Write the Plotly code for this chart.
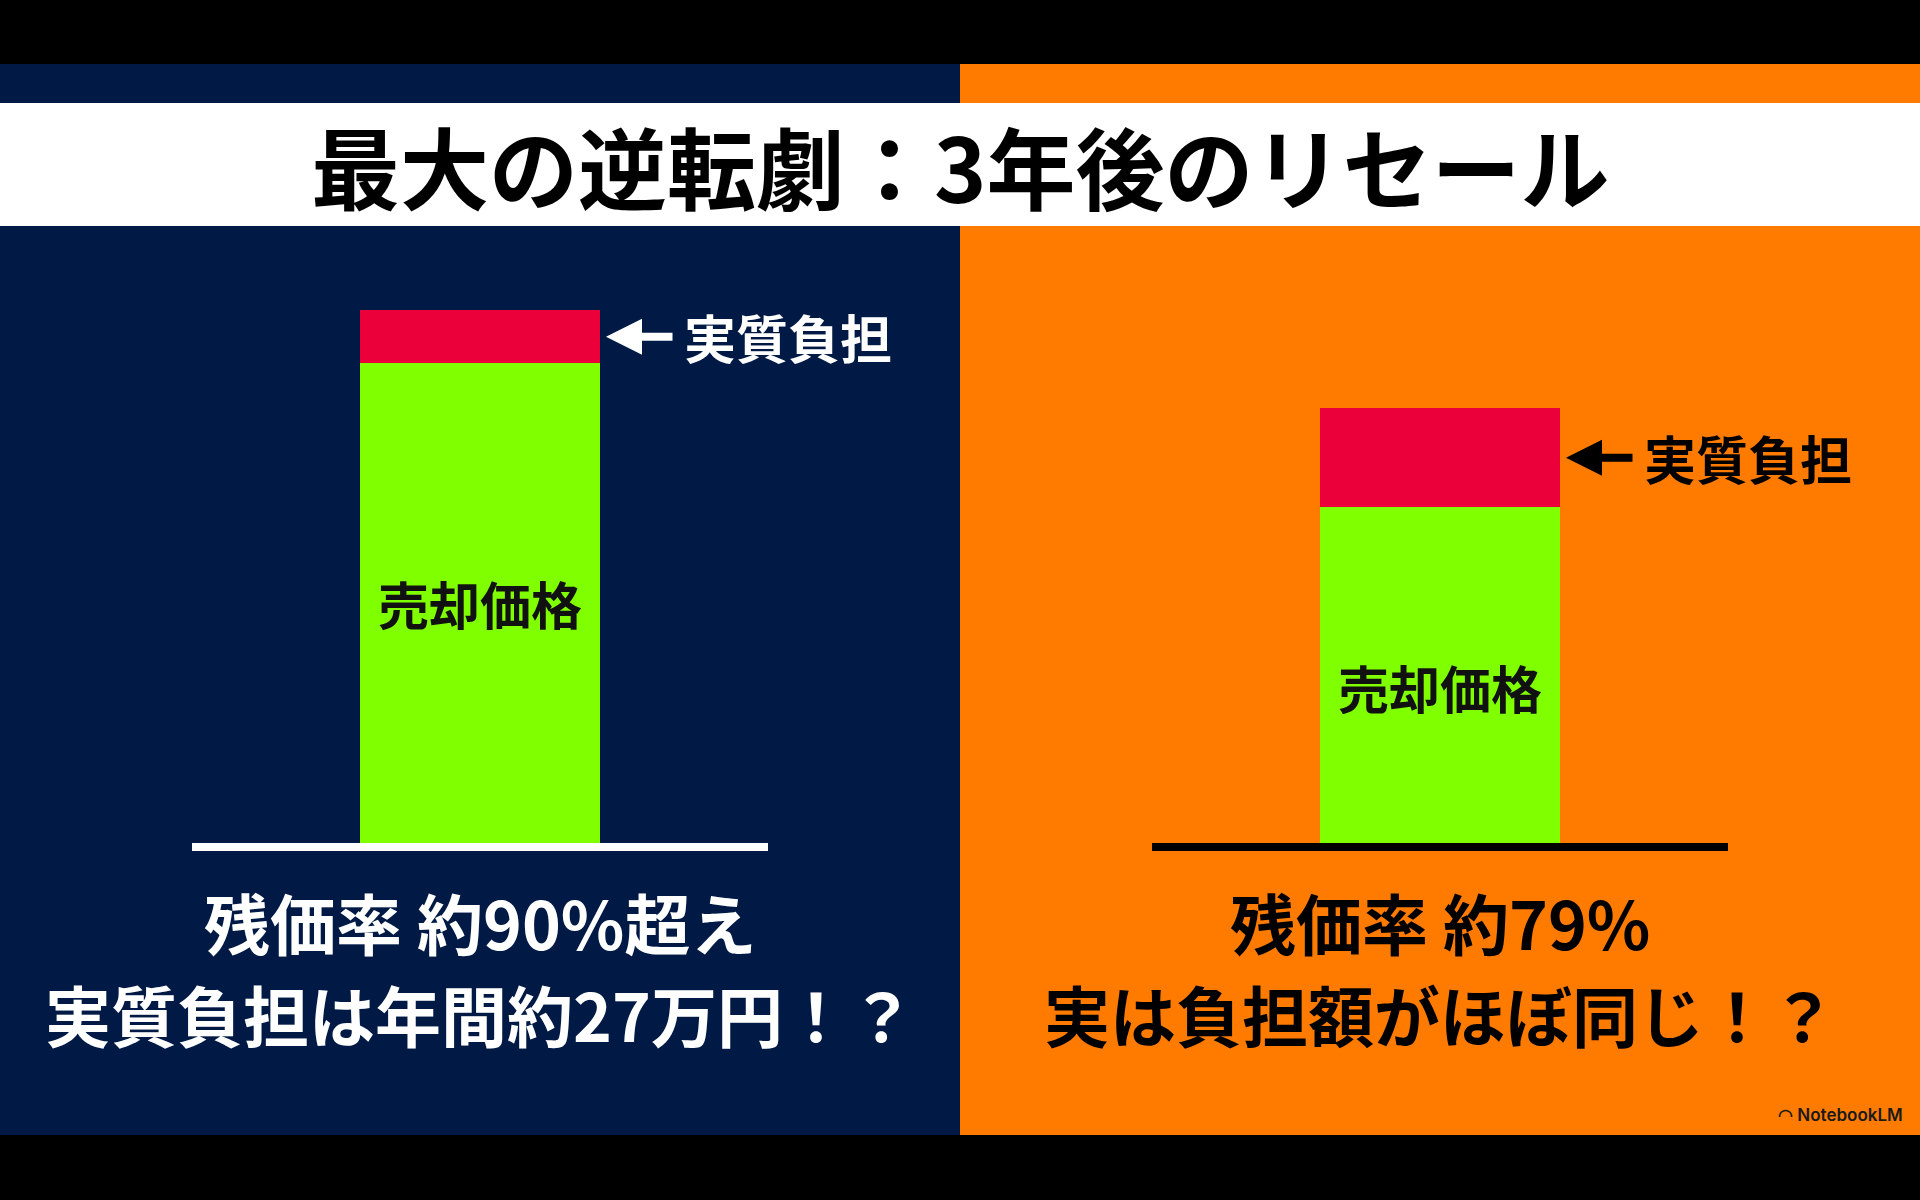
import plotly.graph_objects as go
from plotly.subplots import make_subplots

# ---- data ----
panels = ["左", "右"]
sale_price = [90, 63]          # 売却価格 (relative height)
burden = [10, 18.6]            # 実質負担 (relative height)
bar_label = "売却価格"
burden_label = "実質負担"
title_text = "最大の逆転劇：3年後のリセール"
line1 = ["残価率 約90%超え", "残価率 約79%"]
line2 = ["実質負担は年間約27万円！？", "実は負担額がほぼ同じ！？"]

NAVY = "#011a45"
ORANGE = "#ff7b00"
RED = "#ec0039"
GREEN = "#7fff00"
FONT = "Noto Sans CJK JP"
text_colors = ["#ffffff", "#000000"]
label_yshift = [0, -12]

W, H = 1920, 1200
def py(p):
    return 1 - p / H

fig = make_subplots(rows=1, cols=2, horizontal_spacing=0)

for i in range(2):
    fig.add_trace(go.Bar(x=[panels[i]], y=[sale_price[i]], width=1,
                         marker=dict(color=GREEN, line=dict(width=0)),
                         showlegend=False, hoverinfo="skip"), row=1, col=i + 1)
    fig.add_trace(go.Bar(x=[panels[i]], y=[burden[i]], width=1,
                         marker=dict(color=RED, line=dict(width=0)),
                         showlegend=False, hoverinfo="skip"), row=1, col=i + 1)

fig.update_layout(barmode="stack")

shapes = []
shapes.append(dict(type="rect", xref="paper", yref="paper", x0=0, x1=0.5, y0=0, y1=1,
                   fillcolor=NAVY, line=dict(width=0), layer="below"))
shapes.append(dict(type="rect", xref="paper", yref="paper", x0=0.5, x1=1, y0=0, y1=1,
                   fillcolor=ORANGE, line=dict(width=0), layer="below"))
shapes.append(dict(type="rect", xref="paper", yref="paper", x0=0, x1=1, y0=py(64), y1=1,
                   fillcolor="#000000", line=dict(width=0), layer="below"))
shapes.append(dict(type="rect", xref="paper", yref="paper", x0=0, x1=1, y0=0, y1=py(1135),
                   fillcolor="#000000", line=dict(width=0), layer="below"))
shapes.append(dict(type="rect", xref="paper", yref="paper", x0=0, x1=1, y0=py(226), y1=py(103),
                   fillcolor="#ffffff", line=dict(width=0), layer="below"))

axes = [("x", "y"), ("x2", "y2")]
annotations = []
for i, (xa, ya) in enumerate(axes):
    # baseline just under the bars
    shapes.append(dict(type="rect", xref=xa, yref=ya, x0=-1.2, x1=1.2,
                       ysizemode="pixel", yanchor=0, y0=-8, y1=0,
                       fillcolor=text_colors[i], line=dict(width=0), layer="above"))
    # label inside green bar
    annotations.append(dict(xref=xa, yref=ya, x=panels[i], y=sale_price[i] / 2,
                            text="<b>" + bar_label + "</b>", showarrow=False,
                            font=dict(family=FONT, size=51, color="#111111", weight=900),
                            xanchor="center", yanchor="middle", yshift=label_yshift[i]))
    ymid = sale_price[i] + burden[i] / 2
    # arrow pointing at the burden segment
    annotations.append(dict(xref=xa, yref=ya, x=0.5, y=ymid, xshift=6,
                            text="", showarrow=True, ax=68, ay=0,
                            arrowhead=2, arrowsize=0.9, arrowwidth=8,
                            arrowcolor=text_colors[i], standoff=0))
    annotations.append(dict(xref=xa, yref=ya, x=0.5, y=ymid,
                            text="<b>" + burden_label + "</b>", showarrow=False,
                            font=dict(family=FONT, size=52, color=text_colors[i], weight=900),
                            xanchor="left", yanchor="middle", xshift=82))

centers = [0.25, 0.75]
for i in range(2):
    annotations.append(dict(xref="paper", yref="paper", x=centers[i], y=py(921),
                            text="<b>" + line1[i] + "</b>", showarrow=False,
                            font=dict(family=FONT, size=66, color=text_colors[i], weight=900),
                            xanchor="center", yanchor="middle"))
    annotations.append(dict(xref="paper", yref="paper", x=centers[i], y=py(1013),
                            text="<b>" + line2[i] + "</b>", showarrow=False,
                            font=dict(family=FONT, size=66, color=text_colors[i], weight=900),
                            xanchor="center", yanchor="middle"))

annotations.append(dict(xref="paper", yref="paper", x=0.5, y=py(165),
                        text="<b>" + title_text + "</b>", showarrow=False,
                        font=dict(family=FONT, size=89, color="#000000", weight=900),
                        xanchor="center", yanchor="middle"))
annotations.append(dict(xref="paper", yref="paper", x=1 - 15 / W, y=py(1115),
                        text="◠ NotebookLM", showarrow=False,
                        font=dict(family="Inter", size=17, color="#1a1a1a", weight=600),
                        xanchor="right", yanchor="middle"))

fig.update_layout(
    width=W, height=H, margin=dict(l=0, r=0, t=0, b=0),
    paper_bgcolor=NAVY, plot_bgcolor="rgba(0,0,0,0)",
    shapes=shapes, annotations=annotations, bargap=0,
)
# y=0 sits at 843px, 100 at 310px; the domain extends 20px lower so the baseline is not clipped
units_per_px = 100 / (843 - 310)
for i, (xa, ya) in enumerate(axes):
    fig.update_xaxes(row=1, col=i + 1, domain=[i * 0.5, (i + 1) * 0.5], range=[-2, 2],
                     visible=False, fixedrange=True)
    fig.update_yaxes(row=1, col=i + 1, domain=[py(863), py(310)],
                     range=[-20 * units_per_px, 100],
                     visible=False, fixedrange=True)

fig.write_html("out.html")
